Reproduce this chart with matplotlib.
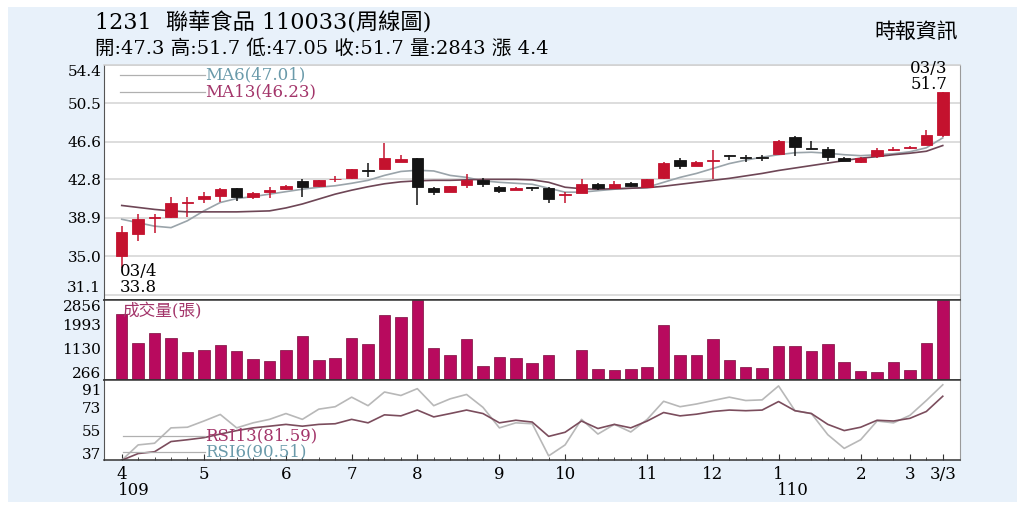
import matplotlib

matplotlib.use("Agg")
import matplotlib.pyplot as plt
from matplotlib.patches import Rectangle
import numpy as np

plt.rcParams["font.family"] = ["DejaVu Serif", "Noto Sans CJK TC"]

# weekly OHLC (109/04 .. 110/03/03)
opens = [35.0, 37.3, 38.9, 39.0, 40.4, 40.8, 41.15, 41.9, 41.05, 41.5,
         41.8, 42.6, 42.1, 42.8, 42.9, 43.7, 43.8, 44.6, 44.95, 41.95,
         41.55, 42.25, 42.7, 42.05, 41.75, 41.95, 41.9, 41.2, 41.45, 42.35,
         41.9, 42.45, 42.05, 42.9, 44.75, 44.2, 44.65, 45.2, 45.0, 45.05,
         45.35, 47.1, 45.95, 45.85, 44.95, 44.6, 45.2, 45.8, 45.95, 46.3, 47.3]
closes = [37.5, 38.8, 38.95, 40.4, 40.45, 41.15, 41.8, 41.0, 41.4, 41.75,
          42.1, 42.05, 42.7, 42.85, 43.8, 43.65, 44.95, 44.85, 42.05, 41.5,
          42.1, 42.7, 42.3, 41.65, 41.95, 41.9, 40.8, 41.2, 42.35, 41.9,
          42.35, 42.1, 42.8, 44.45, 44.2, 44.6, 44.7, 45.15, 44.95, 45.0,
          46.7, 46.05, 45.9, 45.05, 44.7, 45.0, 45.75, 45.85, 46.05, 47.3, 51.7]
highs = [38.1, 39.3, 39.3, 41.0, 41.0, 41.5, 41.9, 41.9, 41.5, 42.0,
         42.2, 42.8, 42.75, 43.1, 43.8, 44.5, 46.5, 45.3, 44.95, 42.0,
         42.15, 43.3, 42.95, 42.1, 42.0, 42.0, 42.0, 41.5, 42.8, 42.4,
         42.6, 42.55, 42.8, 44.6, 45.0, 44.65, 45.8, 45.3, 45.25, 45.3,
         46.75, 47.15, 46.7, 46.1, 45.05, 45.05, 45.95, 46.1, 46.15, 47.8, 51.7]
lows = [33.8, 36.5, 37.4, 38.9, 39.0, 40.4, 40.5, 40.6, 40.8, 40.9,
        41.7, 41.0, 42.0, 42.5, 42.8, 43.0, 43.8, 44.55, 40.15, 41.2,
        41.5, 41.9, 42.0, 41.4, 41.7, 41.6, 40.45, 40.4, 41.4, 41.7,
        41.85, 42.0, 42.0, 42.85, 43.85, 44.15, 42.8, 44.8, 44.6, 44.7,
        45.3, 45.2, 45.85, 44.7, 44.65, 44.45, 44.95, 45.7, 45.9, 46.25, 47.05]

ma6 = [38.75, 38.4, 38.05, 37.9, 38.6, 39.6, 40.45, 40.85, 41.05, 41.3,
       41.55, 41.8, 42.0, 42.15, 42.4, 42.7, 43.2, 43.6, 43.72, 43.65,
       43.2, 43.0, 42.65, 42.5, 42.4, 42.3, 41.9, 41.5, 41.5, 41.65,
       41.8, 41.9, 42.0, 42.5, 43.0, 43.4, 43.9, 44.4, 44.75, 45.05,
       45.3, 45.5, 45.55, 45.45, 45.3, 45.2, 45.3, 45.4, 45.6, 46.0, 47.01]
ma13 = [40.15, 39.95, 39.75, 39.6, 39.5, 39.5, 39.5, 39.5, 39.55, 39.6,
        39.9, 40.3, 40.8, 41.3, 41.7, 42.05, 42.35, 42.55, 42.65, 42.7,
        42.7, 42.75, 42.8, 42.8, 42.8, 42.75, 42.5, 42.0, 41.85, 41.8,
        41.85, 41.9, 41.95, 42.1, 42.3, 42.5, 42.7, 42.9, 43.15, 43.4,
        43.7, 43.95, 44.2, 44.45, 44.7, 44.95, 45.1, 45.3, 45.45, 45.65, 46.23]

volumes = [2350, 1310, 1667, 1488, 988, 1071, 1238, 1035, 750, 690,
           1071, 1583, 714, 774, 1488, 1285, 2320, 2237, 2856, 1131,
           893, 1476, 500, 821, 774, 595, 893, 0, 1059, 405,
           357, 393, 476, 1952, 905, 905, 1476, 714, 476, 440,
           1214, 1214, 1035, 1297, 655, 309, 274, 643, 357, 1321, 2843]

rsi6 = [32, 43.9, 45.2, 57.1, 57.6, 62.4, 67.5, 57.1, 61, 63.7,
        68.2, 63.7, 71.6, 73.5, 80.9, 74.3, 84.9, 82.2, 87.5, 74.3,
        79.6, 83, 73, 57.1, 61, 60.3, 35.4, 43.9, 63.7, 52.3,
        59.8, 53.9, 63.7, 77.7, 73.5, 75.6, 78.3, 80.9, 78.3, 78.8,
        89.6, 70.4, 68.2, 51.8, 41.2, 47.9, 62.4, 61, 66.8, 78.3, 90.5]
rsi13 = [32, 37.2, 38.6, 46.5, 47.9, 49.5, 52.3, 55, 57.1, 58.4,
         59.8, 58.4, 59.8, 60.3, 63.7, 61, 67.2, 66.4, 70.9, 65.6,
         68.2, 70.9, 68.2, 61, 63, 61.6, 50.5, 53.7, 62.4, 56.6,
         59.8, 57.1, 62.4, 69, 66.4, 67.7, 69.8, 70.9, 70.4, 70.9,
         77.5, 70.4, 68.2, 59.8, 55, 57.6, 63, 62.4, 64.5, 69.8, 81.6]

month_pos = [0, 5, 10, 14, 18, 23, 27, 32, 36, 40, 45, 48, 50]
month_labels = ["4", "5", "6", "7", "8", "9", "10", "11", "12", "1", "2", "3", "3/3"]

price_ticks = [31.1, 35.0, 38.9, 42.8, 46.6, 50.5, 54.4]
vol_ticks = [266, 1130, 1993, 2856]
rsi_ticks = [37, 55, 73, 91]

RED = "#c4122e"
BLACK = "#141414"
MAG = "#b80a5e"
TEAL = "#6a9aaa"
MAROON = "#a3356a"

x = np.arange(len(opens))
o = np.array(opens)
c = np.array(closes)

fig = plt.figure(figsize=(10.24, 5.12), dpi=100)
fig.patch.set_facecolor("white")
fig.patches.append(Rectangle((8 / 1024, 10 / 512), 1009 / 1024, 495 / 512,
                             transform=fig.transFigure, facecolor="#e8f1fa",
                             edgecolor="none", zorder=-10))

L, W = 104 / 1024, 856 / 1024
ax_p = fig.add_axes([L, 212 / 512, W, 235 / 512])
ax_v = fig.add_axes([L, 132 / 512, W, 80 / 512], sharex=ax_p)
ax_r = fig.add_axes([L, 52 / 512, W, 80 / 512], sharex=ax_p)

# price panel
up = c >= o
cols = np.where(up, RED, BLACK)
ax_p.vlines(x, lows, highs, colors=cols, lw=1.1, zorder=3)
ax_p.bar(x, np.maximum(np.abs(c - o), 0.08), bottom=np.minimum(o, c), width=0.7,
         color=cols, edgecolor=cols, lw=0.6, zorder=4)
ax_p.plot(x, ma6, color="#9aa4aa", lw=1.2, zorder=2)
ax_p.plot(x, ma13, color="#6e4656", lw=1.2, zorder=2)
ax_p.set_ylim(30.56, 54.37)
ax_p.set_yticks(price_ticks)
ax_p.set_yticklabels(["%.1f" % t for t in price_ticks])
ax_p.yaxis.grid(True, color="#dadada", lw=1.3)
ax_p.set_axisbelow(True)
ax_p.get_yticklabels()[0].set_va("bottom")
ax_p.get_yticklabels()[-1].set_va("top")

# legend rows
ax_p.plot([0.019, 0.118], [0.957, 0.957], transform=ax_p.transAxes, color="#b0b0b0", lw=0.9)
ax_p.plot([0.019, 0.118], [0.885, 0.885], transform=ax_p.transAxes, color="#b0b0b0", lw=0.9)
ax_p.text(0.118, 0.957, "MA6(47.01)", transform=ax_p.transAxes, color=TEAL,
          fontsize=12, va="center", ha="left")
ax_p.text(0.118, 0.885, "MA13(46.23)", transform=ax_p.transAxes, color=MAROON,
          fontsize=12, va="center", ha="left")

ax_p.text(-0.1, 33.5, "03/4", fontsize=12, ha="left", va="center")
ax_p.text(-0.1, 31.85, "33.8", fontsize=12, ha="left", va="center")
ax_p.text(50.3, 54.05, "03/3", fontsize=12, ha="right", va="center")
ax_p.text(50.3, 52.4, "51.7", fontsize=12, ha="right", va="center")

# volume panel
ax_v.bar(x, volumes, width=0.7, color=MAG, edgecolor="#7a0a3c", lw=0.5)
ax_v.set_ylim(0, 2856)
ax_v.set_yticks(vol_ticks)
ax_v.get_yticklabels()[-1].set_va("top")
ax_v.text(0.022, 0.85, "成交量(張)", transform=ax_v.transAxes, color=MAROON,
          fontsize=12, va="center", ha="left")

# RSI panel
ax_r.plot(x, rsi6, color="#b8b8b8", lw=1.2)
ax_r.plot(x, rsi13, color="#7b4d5d", lw=1.2)
ax_r.set_ylim(32.2, 94.2)
ax_r.set_yticks(rsi_ticks)
ax_r.get_yticklabels()[-1].set_va("top")
ax_r.plot([0.022, 0.118], [0.30, 0.30], transform=ax_r.transAxes, color="#b0b0b0", lw=0.9)
ax_r.plot([0.022, 0.118], [0.10, 0.10], transform=ax_r.transAxes, color="#b0b0b0", lw=0.9)
ax_r.text(0.118, 0.30, "RSI13(81.59)", transform=ax_r.transAxes, color=MAROON,
          fontsize=12, va="center", ha="left")
ax_r.text(0.118, 0.10, "RSI6(90.51)", transform=ax_r.transAxes, color=TEAL,
          fontsize=12, va="center", ha="left")

ax_r.set_xlim(-1.08, 51.05)
ax_r.set_xticks(month_pos)
ax_r.set_xticklabels(month_labels)
ax_r.set_xticks(x, minor=True)
ax_r.tick_params(axis="x", which="major", direction="in", length=4, labelsize=12,
                 pad=4, color="#333333")
ax_r.tick_params(axis="x", which="minor", direction="in", length=2.5, color="#333333")
ax_r.text(-0.25, -0.38, "109", transform=ax_r.get_xaxis_transform(), fontsize=12,
          ha="left", va="center")
ax_r.text(39.9, -0.38, "110", transform=ax_r.get_xaxis_transform(), fontsize=12,
          ha="left", va="center")

for ax in (ax_p, ax_v, ax_r):
    ax.set_facecolor("white")
    ax.tick_params(axis="y", length=0, pad=2, labelsize=11)
    ax.spines["left"].set_color("#555555")
    ax.spines["right"].set_color("#9a9a9a")
    ax.spines["top"].set_color("#333333")
    ax.spines["bottom"].set_color("#333333")
    ax.spines["top"].set_linewidth(1.1)
    ax.spines["bottom"].set_linewidth(1.1)
ax_p.spines["top"].set_color("#d0d0d0")
ax_p.tick_params(axis="x", bottom=False, labelbottom=False)
ax_v.tick_params(axis="x", bottom=False, labelbottom=False)

# header
fig.text(95 / 1024, 1 - 23 / 512, "1231  聯華食品 110033(周線圖)", fontsize=16,
         ha="left", va="center")
fig.text(95 / 1024, 1 - 48 / 512, "開:47.3 高:51.7 低:47.05 收:51.7 量:2843 漲 4.4",
         fontsize=14, ha="left", va="center")
fig.text(958 / 1024, 1 - 32 / 512, "時報資訊", fontsize=15, ha="right", va="center")

plt.savefig("out.png", dpi=100)
